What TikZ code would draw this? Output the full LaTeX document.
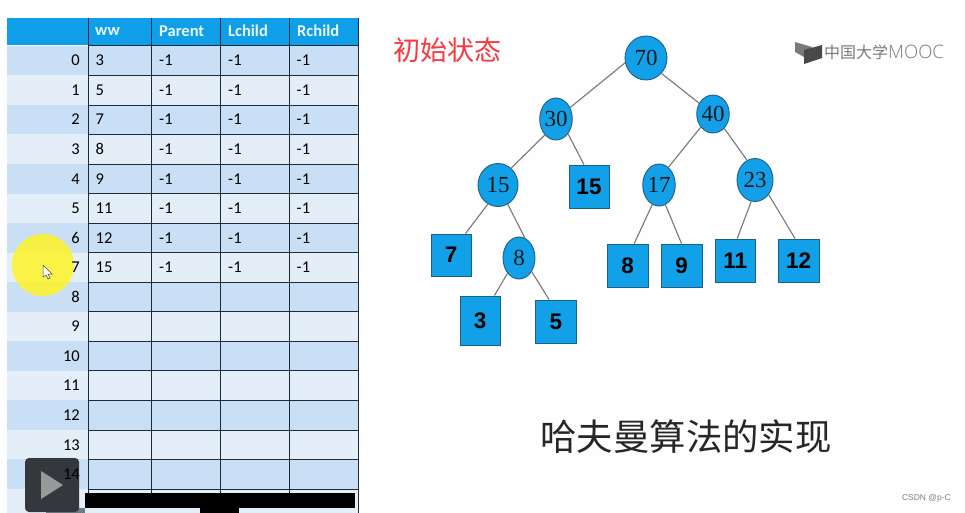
\documentclass[tikz,border=0pt]{standalone}
\usepackage{fontspec}
\setmainfont{Liberation Sans}
\newfontfamily\tblfont{Carlito}
\newfontfamily\cjkfont{Noto Sans CJK SC}
\newfontfamily\treefont{Liberation Serif}
\newfontfamily\logofont{Open Sans Light}
\usetikzlibrary{shapes.geometric}
\definecolor{hdr}{HTML}{0F9FE8}
\definecolor{rowa}{HTML}{C9DFF5}
\definecolor{rowb}{HTML}{E4EEF8}
\definecolor{rulec}{HTML}{1E2A35}
\definecolor{nodeb}{HTML}{12A0E8}
\definecolor{nodeedge}{HTML}{1F5F85}
\definecolor{linkc}{HTML}{777777}
\definecolor{logoc}{HTML}{7A7A7A}
\definecolor{playc}{HTML}{34383C}
\definecolor{pagec}{HTML}{FEFEFE}
\definecolor{redc}{HTML}{F53A40}
\tikzset{
  inner/.style={ellipse,draw=nodeedge,line width=0.9pt,fill=nodeb,inner sep=0pt,
    font=\treefont\fontsize{23}{23}\selectfont,text=black!90},
  leaf/.style={rectangle,draw=nodeedge,line width=0.9pt,fill=nodeb,inner sep=0pt,
    font=\bfseries\fontsize{22.5}{22.5}\selectfont,text=black},
  link/.style={draw=linkc,line width=1.1pt},
  cell/.style={inner sep=0pt,anchor=west,font=\tblfont\fontsize{16.5}{16.5}\selectfont,text=black},
  rowlabel/.style={inner sep=0pt,anchor=east,font=\tblfont\fontsize{16.5}{16.5}\selectfont,text=black},
  headcell/.style={inner sep=0pt,anchor=west,font=\tblfont\bfseries\fontsize{16.5}{16.5}\selectfont,text=white!92!hdr},
  rulel/.style={draw=rulec,line width=0.9pt}
}
\begin{document}
\begin{tikzpicture}[x=1pt,y=-1pt]
\useasboundingbox (0,0) rectangle (965,513);
\fill[pagec] (0,0) rectangle (965,513);
% table fills
\fill[hdr] (7,18) rectangle (358,45.5);
\foreach \t/\b/\c in {46/75.5/rowa,75.5/105/rowb,105/134.5/rowa,134.5/164/rowb,
  164/193.5/rowa,193.5/223/rowb,223/252.5/rowa,252.5/282/rowb,282/311.5/rowa,
  311.5/341/rowb,341/370.5/rowa,370.5/400/rowb,400/430/rowa,430/459/rowb,459/489/rowa}
  \fill[\c] (7,\t) rectangle (358,\b);
\fill[rowb] (7,489) rectangle (358,513);
% rules
\foreach \y in {45.5,75.5,105,134.5,164,193.5,223,252.5,282,311.5,341,370.5,400,430,459,489}
  \draw[rulel] (88,\y) -- (358,\y);
\foreach \x in {88,151.5,220.5,289.5}
  \draw[rulel] (\x,18) -- (\x,494);
\draw[rulel] (358,18) -- (358,513);
% highlight and pointer
\fill[yellow!85!white,opacity=0.85] (43,265) circle (31);
\draw[fill=white,draw=black!70,line width=0.5pt] (43,265) -- (43,277) -- (46,275) -- (48,279) -- (50,278) -- (48,274) -- (52,274) -- cycle;
% bottom overlays
\fill[black] (85,493) rectangle (355,508);
\fill[black] (200,508) rectangle (239,513);
\fill[black!45!rowa] (46,508) rectangle (85,513);
\fill[playc,rounded corners=4pt] (25,458) rectangle (79,512);
\fill[black!40] (41,471) -- (63,485) -- (41,499) -- cycle;
% row labels
\foreach \r/\y in {0/60.5,1/90,2/119.5,3/149,4/179,5/208.5,6/238,7/267.5,8/297,9/326,10/356,11/385.5,12/415,13/445,14/474}
  \node[rowlabel] (r\r) at (80,\y) {\r};
% header
\node[headcell] (hw) at (95,31) {ww};
\node[headcell] (hp) at (159,31) {Parent};
\node[headcell] (hl) at (228,31) {Lchild};
\node[headcell] (hr) at (297,31) {Rchild};
% data
\foreach \i/\v/\y in {0/3/60.5,1/5/90,2/7/119.5,3/8/149,4/9/179,5/11/208.5,6/12/238,7/15/267.5}
{
  \node[cell] (w\i) at (95.5,\y) {\v};
  \node[cell] (p\i) at (159,\y) {-1};
  \node[cell] (l\i) at (228,\y) {-1};
  \node[cell] (c\i) at (296.5,\y) {-1};
}
% titles
\node[inner sep=0pt,text=redc,font=\cjkfont\fontsize{27}{27}\selectfont] (state) at (447.5,50) {初始状态};
\node[inner sep=0pt,text=black!85,font=\cjkfont\fontsize{36.4}{36.4}\selectfont] (title) at (686,437) {哈夫曼算法的实现};
% logo
\fill[logoc] (795,42) -- (812,47) -- (812,60) -- (804,57) -- (795,52) -- cycle;
\fill[logoc!60!black] (804,50) -- (822,45) -- (822,58) -- (804,64) -- cycle;
\node[inner sep=0pt,anchor=west,text=logoc,font=\cjkfont\fontsize{16}{16}\selectfont] (logoa) at (824,52) {中国大学};
\node[inner sep=0pt,anchor=west,text=logoc,font=\logofont\fontsize{18.5}{18.5}\selectfont] (logob) at (888,52) {MOOC};
\node[inner sep=0pt,anchor=east,text=black!50,font=\fontsize{8.5}{9}\selectfont] (csdn) at (951,498) {CSDN @p-C};
% inner nodes
\node[inner,minimum width=42pt,minimum height=44pt] (a70) at (646,58) {70};
\node[inner,minimum width=32pt,minimum height=38pt] (a40) at (713,114) {40};
\node[inner,minimum width=36pt,minimum height=43pt] (a23) at (755,180) {23};
\node[inner,minimum width=32pt,minimum height=42pt] (a17) at (659,185) {17};
\node[inner,minimum width=32pt,minimum height=42pt] (a30) at (556,119) {30};
\node[inner,minimum width=40pt,minimum height=43pt] (a15) at (498,185) {15};
\node[inner,minimum width=32pt,minimum height=42pt] (a8) at (519,258) {8};
% leaves
\node[leaf,minimum width=40pt,minimum height=43pt] (b15) at (589,186.5) {15};
\node[leaf,minimum width=40pt,minimum height=42pt] (b7) at (451,255) {7};
\node[leaf,minimum width=40pt,minimum height=49pt] (b3) at (480,320.5) {3};
\node[leaf,minimum width=40.5pt,minimum height=43pt] (b5) at (555.75,321.5) {5};
\node[leaf,minimum width=41pt,minimum height=43pt] (b8) at (627.5,265.5) {8};
\node[leaf,minimum width=41pt,minimum height=43pt] (b9) at (681.5,265.5) {9};
\node[leaf,minimum width=40.5pt,minimum height=43pt] (b11) at (735.25,260.5) {11};
\node[leaf,minimum width=41pt,minimum height=43pt] (b12) at (798.5,260.5) {12};
% links
\draw[link] (a70.193) -- (a30.39);
\draw[link] (a70.-45) -- (a40.142);
\draw[link] (a40.227) -- (a17.62);
\draw[link] (a40.-52) -- (a23.112);
\draw[link] (a23.260) -- (b11.85);
\draw[link] (a23.-47) -- (b12.99);
\draw[link] (a17.251) -- (b8.73);
\draw[link] (a17.-72) -- (b9.90);
\draw[link] (a30.235) -- (a15.52);
\draw[link] (a30.-51) -- (b15.103);
\draw[link] (a15.242) -- (b7.56);
\draw[link] (a15.-63) -- (a8.74);
\draw[link] (a8.233) -- (b3.60);
\draw[link] (a8.-47) -- (b5.107);
\end{tikzpicture}
\end{document}
